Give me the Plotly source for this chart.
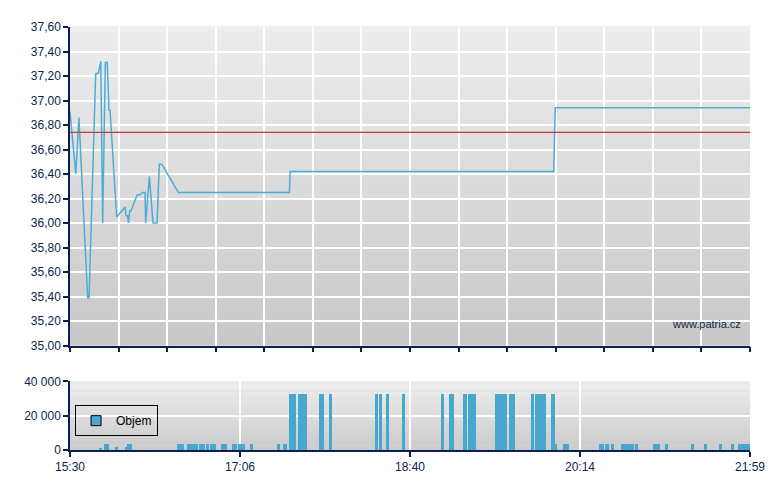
import plotly.graph_objects as go

# ---- data (minutes elapsed since 15:30) ----
price_minutes = [0, 3.3, 5.1, 10.1, 10.9, 14.7, 16.2, 17.6, 18.7, 20.2, 21.3, 22.3, 22.9, 26.7,
                 31.5, 32.0, 33.0, 33.4, 34.2, 34.9, 38.5, 40.0, 41.6, 42.9, 43.3, 45.4, 47.5,
                 49.8, 51.1, 52.5, 62.0, 125.5, 126.0, 276.7, 277.6, 389]
price = [36.91, 36.40, 36.86, 35.39, 35.39, 37.22, 37.22, 37.32, 36.00, 37.31, 37.31, 36.92,
         36.92, 36.05, 36.13, 36.06, 36.06, 36.00, 36.10, 36.10, 36.23, 36.23, 36.25, 36.25,
         36.00, 36.38, 36.00, 36.00, 36.48, 36.48, 36.25, 36.25, 36.42, 36.42, 36.94, 36.94]
prev_close = 36.74

vol_start = [16.6, 19.6, 25.7, 31.6, 32.4, 61.2, 66.9, 74.0, 77.8, 80.1, 86.6, 92.7, 96.1, 103.0,
             118.4, 121.9, 125.1, 130.4, 142.5, 148.2, 174.5, 176.8, 180.8, 189.9, 212.2, 216.8,
             224.8, 227.7, 243.1, 251.1, 263.7, 266.0, 275.2, 277.3, 282.0, 302.6, 306.1, 309.5,
             315.2, 323.3, 333.5, 340.4, 355.3, 362.7, 371.3, 378.2, 382.2]
vol_end = [18.1, 22.3, 27.3, 32.4, 35.5, 65.2, 73.2, 77.1, 79.3, 83.4, 89.8, 95.4, 100.1, 104.5,
           120.1, 124.1, 129.3, 135.6, 145.1, 149.7, 176.0, 178.3, 182.3, 191.5, 213.8, 219.5,
           227.1, 232.1, 250.0, 254.6, 265.3, 272.1, 277.3, 278.4, 285.5, 305.3, 308.4, 311.0,
           322.5, 324.8, 337.4, 341.9, 356.8, 364.3, 372.8, 379.7, 389.0]
volume = [1000, 3500, 1500, 1500, 3500,
          3500, 3500, 3500, 3500, 3500, 3500, 3500, 3500, 3500,
          3500, 3500,
          32500, 32500, 32500, 32500, 32500, 32500, 32500, 32500, 32500, 32500, 32500, 32500,
          32500, 32500, 32500, 32500, 32500,
          3500,
          3500, 3500, 3500, 3500, 3500, 3500, 3500, 3500, 3500, 3500, 3500, 3500, 3500]

session_len = 389
x_labels = ["15:30", "17:06", "18:40", "20:14", "21:59"]

NAVY = "#0b1f4d"
LINE = "#4aaed6"
BAR = "#47a7cf"
FONT = "Liberation Sans, Arial, sans-serif"

fig = go.Figure()

fig.add_trace(go.Scatter(x=price_minutes, y=price, mode="lines",
                         line=dict(color=LINE, width=1.5), showlegend=False,
                         xaxis="x", yaxis="y", hoverinfo="skip"))
fig.add_trace(go.Scatter(x=[0, session_len], y=[prev_close, prev_close], mode="lines",
                         line=dict(color="#c43a3a", width=1.3), showlegend=False,
                         xaxis="x", yaxis="y", hoverinfo="skip"))

fig.add_trace(go.Bar(x=vol_start, y=volume,
                     width=[e - s for s, e in zip(vol_start, vol_end)], offset=0,
                     marker=dict(color=BAR, line=dict(width=0)), showlegend=False,
                     xaxis="x2", yaxis="y2"))
fig.add_trace(go.Scatter(x=[None], y=[None], mode="markers", name="Objem",
                         marker=dict(symbol="square", size=10, color=BAR,
                                     line=dict(color="black", width=1)),
                         xaxis="x2", yaxis="y2"))

# gradient backgrounds
shapes = []
N = 60
def grad(xref, yref, top, bot):
    for i in range(N):
        f = (i + 0.5) / N
        c = int(round(bot + (top - bot) * f))
        shapes.append(dict(type="rect", xref=xref, yref=yref, x0=0, x1=1,
                           y0=i / N, y1=(i + 1) / N + 0.002, layer="below",
                           line=dict(width=0), fillcolor=f"rgb({c},{c},{c})"))
grad("x domain", "y domain", 237, 200)
grad("x2 domain", "y2 domain", 240, 201)

grid_vals = [session_len * i / 14 for i in range(15)]
label_vals = [session_len * i / 4 for i in range(5)]

axis_common = dict(showline=True, linecolor=NAVY, linewidth=1.5, ticks="outside",
                   ticklen=5, tickcolor=NAVY, tickwidth=1.5, gridcolor="white",
                   gridwidth=1.5, zeroline=False,
                   tickfont=dict(family=FONT, size=12, color=NAVY))

fig.update_layout(
    width=780, height=490,
    margin=dict(l=62, r=38, t=17, b=48),
    paper_bgcolor="white", plot_bgcolor="#d8d8d8",
    separators=", ",
    font=dict(family=FONT, size=12, color=NAVY),
    bargap=0,
    shapes=shapes,
    xaxis=dict(domain=[0, 1], anchor="y", range=[0, session_len], tickvals=grid_vals,
               showticklabels=False, **axis_common),
    yaxis=dict(domain=[0.247, 1], anchor="x", range=[35, 37.6], tick0=35, dtick=0.2,
               tickformat=".2f", **axis_common),
    xaxis2=dict(domain=[0, 1], anchor="y2", range=[0, session_len], tickvals=label_vals,
                ticktext=x_labels, **axis_common),
    yaxis2=dict(domain=[0, 0.1624], anchor="x2", range=[0, 40000], tickvals=[0, 20000, 40000],
                tickformat=",d", **axis_common),
    legend=dict(x=0.0074, y=0.106, xanchor="left", yanchor="top",
                bgcolor="rgba(0,0,0,0)", bordercolor="black", borderwidth=1,
                font=dict(family=FONT, size=12, color="black"), itemwidth=30,
                tracegroupgap=0),
    annotations=[dict(text="www.patria.cz", xref="paper", yref="paper", x=0.99, y=0.299,
                      xanchor="right", yanchor="middle", showarrow=False,
                      font=dict(family=FONT, size=11, color=NAVY))],
)

fig.write_html("out.html")
